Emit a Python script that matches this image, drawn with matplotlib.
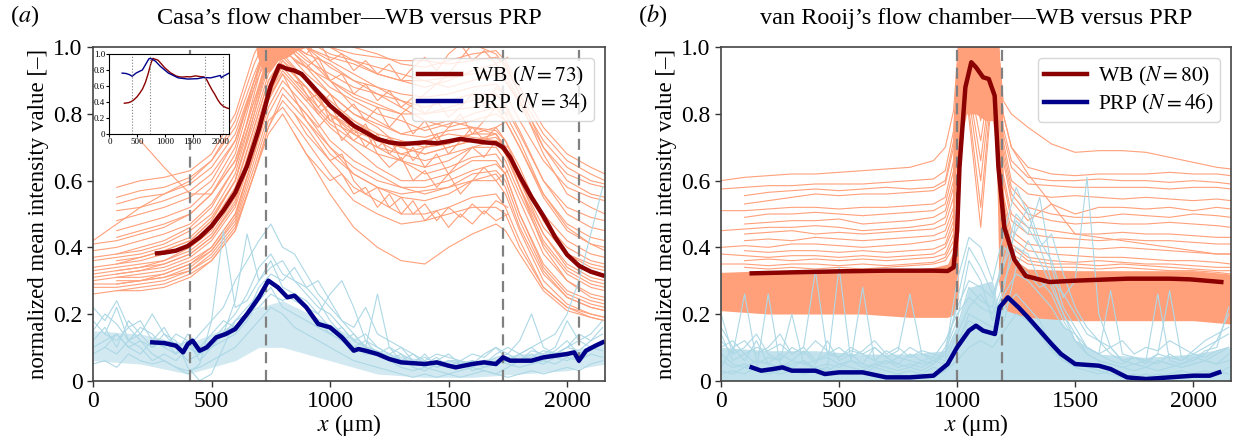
import numpy as np
import matplotlib.pyplot as plt

plt.rcParams['font.family'] = ['Liberation Serif', 'DejaVu Serif']
plt.rcParams['mathtext.fontset'] = 'stix'
nan = np.nan

# ---------------- panel (a): Casa's flow chamber ----------------
dash_a = [410, 730, 1730, 2050]

x_wb_a = [0, 100, 200, 300, 410, 500, 600, 680, 740, 800, 900, 1000, 1100, 1200,
          1300, 1400, 1500, 1600, 1700, 1740, 1800, 1900, 2000, 2100, 2160]
wb_a = [
    [0.42, 0.47, 0.52, 0.56, 0.60, 0.66, 0.78, 0.95, 1.04, 1.05, 1.02, 1.00, 0.98, 0.97, 0.96, 0.96, 0.95, 0.96, 0.97, 0.95, 0.86, 0.74, 0.66, 0.62, 0.60],
    [nan, 0.55, 0.57, 0.58, 0.61, 0.66, 0.76, 0.92, 1.02, 1.04, 1.00, 0.97, 0.95, 0.92, 0.90, 0.90, 0.91, 0.92, 0.93, 0.90, 0.83, 0.70, 0.62, 0.59, 0.58],
    [nan, 0.53, 0.55, 0.56, 0.59, 0.64, 0.74, 0.90, 1.00, 1.03, 0.98, 0.95, 0.90, 0.88, 0.86, 0.85, 0.86, 0.88, 0.89, 0.86, 0.78, 0.66, 0.58, 0.55, 0.54],
    [nan, 0.51, 0.52, 0.54, 0.57, 0.62, 0.72, 0.88, 0.98, 1.02, 0.96, 0.92, 0.88, 0.86, 0.84, 0.80, 0.82, 0.84, 0.86, 0.83, 0.75, 0.60, 0.50, 0.46, 0.45],
    [0.41, 0.42, 0.44, 0.46, 0.50, 0.56, 0.66, 0.84, 0.96, 1.01, 0.95, 0.88, 0.84, 0.80, 0.78, 0.75, 0.77, 0.80, 0.82, 0.78, 0.70, 0.55, 0.45, 0.41, 0.40],
    [nan, 0.38, 0.40, 0.42, 0.46, 0.52, 0.64, 0.82, 0.96, 1.00, 0.92, 0.86, 0.80, 0.77, 0.74, 0.76, 0.78, 0.76, 0.74, 0.70, 0.60, 0.46, 0.38, 0.35, 0.34],
    [0.36, 0.37, 0.38, 0.40, 0.43, 0.49, 0.60, 0.78, 0.92, 0.98, 0.90, 0.84, 0.78, 0.73, 0.70, 0.72, 0.74, 0.73, 0.72, 0.68, 0.58, 0.44, 0.35, 0.31, 0.30],
    [nan, 0.35, 0.36, 0.38, 0.41, 0.47, 0.58, 0.76, 0.90, 0.96, 0.90, 0.80, 0.76, 0.72, 0.68, 0.66, 0.68, 0.70, 0.70, 0.66, 0.56, 0.41, 0.32, 0.28, 0.27],
    [0.33, 0.34, 0.35, 0.36, 0.39, 0.44, 0.55, 0.74, 0.88, 0.94, 0.86, 0.78, 0.74, 0.70, 0.66, 0.62, 0.64, 0.67, 0.68, 0.64, 0.54, 0.38, 0.30, 0.26, 0.25],
    [nan, 0.32, 0.33, 0.34, 0.37, 0.42, 0.52, 0.70, 0.85, 0.92, 0.84, 0.76, 0.70, 0.64, 0.60, 0.60, 0.62, 0.66, 0.66, 0.62, 0.50, 0.35, 0.27, 0.24, 0.23],
    [0.30, 0.31, 0.32, 0.33, 0.36, 0.40, 0.50, 0.68, 0.82, 0.90, 0.82, 0.72, 0.66, 0.62, 0.58, 0.56, 0.58, 0.62, 0.63, 0.60, 0.48, 0.33, 0.25, 0.22, 0.21],
    [nan, 0.29, 0.30, 0.31, 0.34, 0.39, 0.48, 0.66, 0.80, 0.88, 0.80, 0.70, 0.62, 0.58, 0.55, 0.54, 0.56, 0.60, 0.60, 0.56, 0.45, 0.30, 0.23, 0.20, 0.19],
    [0.28, 0.28, 0.29, 0.30, 0.33, 0.37, 0.46, 0.62, 0.76, 0.84, 0.76, 0.66, 0.58, 0.54, 0.50, 0.50, 0.52, 0.55, 0.56, 0.52, 0.42, 0.28, 0.22, 0.19, 0.18],
    [nan, 0.30, 0.30, 0.31, 0.33, 0.38, 0.47, 0.64, 0.78, 0.82, 0.72, 0.62, 0.54, 0.50, 0.47, 0.48, 0.50, 0.52, 0.52, 0.50, 0.40, 0.28, 0.22, 0.20, 0.19],
    [nan, 0.27, 0.27, 0.28, 0.31, 0.36, 0.45, 0.62, 0.74, 0.80, 0.68, 0.56, 0.46, 0.40, 0.36, 0.35, 0.40, 0.44, 0.47, 0.45, 0.38, 0.27, 0.21, 0.19, 0.18],
    [0.39, 0.40, 0.42, 0.44, 0.47, 0.53, 0.64, 0.86, 1.02, 1.05, 1.00, 0.94, 0.90, 0.86, 0.82, 0.78, 0.76, 0.78, 0.80, 0.78, 0.70, 0.56, 0.47, 0.43, 0.42],
    [nan, 0.45, 0.47, 0.49, 0.52, 0.58, 0.70, 0.90, 1.04, 1.05, 1.00, 0.96, 0.92, 0.88, 0.84, 0.82, 0.84, 0.86, 0.86, 0.82, 0.74, 0.60, 0.52, 0.49, 0.48],
    [nan, 0.48, 0.50, 0.52, 0.55, 0.60, 0.72, 0.90, 1.03, 1.05, 1.02, 0.98, 0.96, 0.94, 0.92, 0.90, 0.88, 0.90, 0.92, 0.90, 0.84, 0.72, 0.64, 0.60, 0.59],
    [0.31, 0.32, 0.33, 0.35, 0.38, 0.43, 0.54, 0.72, 0.86, 0.93, 0.85, 0.77, 0.72, 0.68, 0.66, 0.64, 0.66, 0.70, 0.72, 0.68, 0.58, 0.42, 0.33, 0.29, 0.28],
    [nan, 0.33, 0.34, 0.36, 0.40, 0.45, 0.57, 0.76, 0.90, 0.97, 0.90, 0.82, 0.78, 0.74, 0.72, 0.70, 0.71, 0.74, 0.76, 0.72, 0.64, 0.48, 0.38, 0.34, 0.33],
    [nan, nan, 0.72, 0.64, 0.56, 0.56, 0.66, 0.84, 0.98, 1.02, 0.94, 0.90, 0.86, 0.83, 0.80, 0.86, 0.92, 1.01, 0.98, 0.94, 0.86, 0.70, 0.60, 0.56, 0.55],
    [0.34, 0.35, 0.37, 0.39, 0.42, 0.48, 0.60, 0.80, 0.94, 0.99, 0.94, 0.86, 0.80, 0.76, 0.70, 0.68, 0.70, 0.72, 0.74, 0.70, 0.62, 0.50, 0.42, 0.38, 0.37],
    [nan, 0.58, 0.60, 0.61, 0.63, 0.68, 0.80, 0.98, 1.06, 1.08, 1.05, 1.03, 1.00, 0.98, 0.95, 0.94, 0.96, 0.98, 0.99, 0.96, 0.88, 0.76, 0.68, 0.64, 0.62],
    [0.37, 0.38, 0.39, 0.41, 0.45, 0.50, 0.62, 0.82, 0.99, 1.06, 1.00, 0.90, 0.82, 0.78, 0.74, 0.73, 0.75, 0.76, 0.75, 0.72, 0.62, 0.48, 0.40, 0.36, 0.35],
    [nan, 0.31, 0.31, 0.32, 0.35, 0.40, 0.50, 0.68, 0.84, 0.92, 0.78, 0.68, 0.62, 0.58, 0.56, 0.57, 0.58, 0.60, 0.62, 0.58, 0.46, 0.32, 0.25, 0.22, 0.21],
    [0.29, 0.29, 0.30, 0.32, 0.35, 0.39, 0.49, 0.68, 0.85, 0.95, 0.88, 0.80, 0.75, 0.72, 0.70, 0.68, 0.70, 0.72, 0.73, 0.70, 0.58, 0.40, 0.30, 0.25, 0.24],
    [nan, 0.43, 0.45, 0.47, 0.50, 0.56, 0.68, 0.88, 1.04, 1.08, 1.04, 1.00, 0.96, 0.92, 0.90, 0.88, 0.90, 0.93, 0.95, 0.92, 0.84, 0.68, 0.56, 0.52, 0.50],
    [0.32, 0.33, 0.34, 0.35, 0.38, 0.43, 0.53, 0.72, 0.88, 0.96, 0.88, 0.80, 0.74, 0.70, 0.68, 0.70, 0.72, 0.74, 0.74, 0.70, 0.60, 0.44, 0.34, 0.30, 0.29],
    [nan, 0.36, 0.37, 0.39, 0.42, 0.48, 0.60, 0.80, 0.96, 1.03, 0.97, 0.90, 0.85, 0.82, 0.80, 0.80, 0.81, 0.82, 0.83, 0.80, 0.72, 0.56, 0.46, 0.41, 0.39],
    [0.26, 0.27, 0.28, 0.29, 0.32, 0.36, 0.45, 0.62, 0.76, 0.86, 0.78, 0.70, 0.64, 0.60, 0.58, 0.58, 0.60, 0.63, 0.65, 0.62, 0.50, 0.34, 0.26, 0.23, 0.22],
]

# noisy stretches of single WB traces across the plateau
x_wb_a_mid = [850, 900, 950, 1000, 1050, 1100, 1150, 1200, 1250, 1300, 1350, 1400,
              1450, 1500, 1550, 1600, 1650, 1700, 1750]
wb_a_mid = [
    [0.96, 0.94, 0.97, 0.90, 0.92, 0.86, 0.89, 0.84, 0.87, 0.82, 0.85, 0.80, 0.84, 0.79, 0.82, 0.86, 0.83, 0.88, 0.85],
    [0.88, 0.84, 0.86, 0.78, 0.80, 0.74, 0.77, 0.70, 0.73, 0.66, 0.70, 0.64, 0.68, 0.62, 0.66, 0.70, 0.67, 0.72, 0.70],
    [0.92, 0.86, 0.80, 0.83, 0.76, 0.72, 0.75, 0.68, 0.64, 0.67, 0.60, 0.63, 0.58, 0.62, 0.56, 0.60, 0.64, 0.60, 0.63],
    [0.80, 0.74, 0.70, 0.66, 0.68, 0.60, 0.56, 0.58, 0.52, 0.55, 0.50, 0.53, 0.48, 0.52, 0.49, 0.53, 0.50, 0.54, 0.52],
    [1.00, 0.98, 1.02, 0.96, 0.98, 0.93, 0.96, 0.92, 0.95, 0.90, 0.94, 0.97, 0.93, 0.98, 1.01, 0.96, 0.99, 0.95, 0.97],
    [0.84, 0.80, 0.76, 0.80, 0.72, 0.76, 0.70, 0.74, 0.68, 0.72, 0.66, 0.70, 0.74, 0.68, 0.72, 0.76, 0.72, 0.76, 0.78],
    [0.74, 0.68, 0.64, 0.60, 0.62, 0.56, 0.58, 0.52, 0.56, 0.50, 0.54, 0.48, 0.51, 0.46, 0.50, 0.47, 0.51, 0.48, 0.50],
    [0.90, 0.88, 0.82, 0.86, 0.80, 0.83, 0.78, 0.82, 0.76, 0.80, 0.74, 0.78, 0.72, 0.76, 0.80, 0.74, 0.78, 0.82, 0.80],
]

# saturated top of the WB peak
x_peak_a = [690, 720, 750, 780, 820, 860, 900, 950]
peak_a_lo = [0.98, 0.92, 0.93, 0.96, 0.97, 0.99, 1.00, 1.00]
peak_a_hi = [1.05, 1.05, 1.05, 1.05, 1.05, 1.05, 1.05, 1.05]

x_prp_a = [0, 50, 100, 150, 200, 250, 300, 350, 400, 450, 500, 550, 600, 650, 700, 750,
           800, 850, 900, 950, 1000, 1050, 1100, 1150, 1200, 1250, 1300, 1350, 1400,
           1450, 1500, 1550, 1600, 1650, 1700, 1750, 1800, 1850, 1900, 1950, 2000,
           2050, 2100, 2150]
prp_a = [
    [0.15, 0.20, 0.17, 0.12, 0.14, 0.10, 0.12, 0.08, 0.10, 0.14, 0.18, 0.22, 0.30, 0.36, 0.42, 0.47, 0.40, 0.38, 0.32, 0.26, 0.22, 0.18, 0.14, 0.10, 0.09, 0.07, 0.06, 0.05, 0.06, 0.04, 0.05, 0.04, 0.06, 0.05, 0.07, 0.08, 0.06, 0.07, 0.09, 0.08, 0.10, 0.09, 0.12, 0.14],
    [0.22, 0.18, 0.24, 0.16, 0.18, 0.12, 0.16, 0.10, 0.06, 0.08, 0.12, 0.16, 0.20, 0.26, 0.34, 0.38, 0.32, 0.30, 0.26, 0.22, 0.20, 0.16, 0.12, 0.14, 0.10, 0.08, 0.06, 0.08, 0.05, 0.07, 0.04, 0.06, 0.05, 0.08, 0.10, 0.06, 0.08, 0.10, 0.07, 0.09, 0.12, 0.08, 0.10, 0.12],
    [nan, 0.10, 0.14, 0.10, 0.12, 0.08, 0.06, 0.04, 0.02, 0.05, 0.18, 0.45, 0.22, 0.24, 0.30, 0.36, 0.28, 0.26, 0.24, 0.20, 0.26, 0.30, 0.22, 0.12, 0.10, 0.08, 0.10, 0.06, 0.04, 0.06, 0.08, 0.05, 0.06, 0.04, 0.05, 0.06, 0.08, 0.06, 0.05, 0.07, 0.06, 0.08, 0.10, 0.11],
    [0.12, 0.16, 0.10, 0.18, 0.14, 0.20, 0.14, 0.12, 0.04, 0.00, 0.02, 0.10, 0.18, 0.20, 0.28, 0.32, 0.30, 0.34, 0.28, 0.24, 0.18, 0.14, 0.10, 0.12, 0.08, 0.06, 0.04, 0.03, 0.04, 0.03, 0.02, 0.03, 0.04, 0.03, 0.02, 0.04, 0.06, 0.08, 0.06, 0.08, 0.10, 0.14, 0.12, 0.16],
    [0.08, 0.10, 0.08, 0.12, 0.10, 0.06, 0.08, 0.06, 0.10, 0.08, 0.12, 0.14, 0.24, 0.44, 0.30, 0.34, 0.36, 0.30, 0.28, 0.30, 0.24, 0.18, 0.16, 0.22, 0.14, 0.12, 0.10, 0.08, 0.06, 0.08, 0.07, 0.06, 0.08, 0.07, 0.10, 0.08, 0.12, 0.20, 0.10, 0.08, 0.10, 0.12, 0.14, 0.18],
    [0.05, 0.06, 0.04, 0.08, 0.06, 0.05, 0.06, 0.04, 0.03, 0.04, 0.06, 0.08, 0.10, 0.14, 0.18, 0.22, 0.20, 0.16, 0.14, 0.12, 0.10, 0.08, 0.06, 0.05, 0.04, 0.03, 0.02, 0.01, 0.02, 0.01, 0.02, 0.01, 0.02, 0.03, 0.02, 0.01, 0.02, 0.03, 0.02, 0.03, 0.04, 0.03, 0.05, 0.06],
    [nan, 0.14, 0.12, 0.16, 0.12, 0.10, 0.14, 0.10, 0.12, 0.08, 0.10, 0.12, 0.14, 0.18, 0.24, 0.28, 0.22, 0.20, 0.18, 0.16, 0.14, 0.12, 0.10, 0.08, 0.08, 0.10, 0.08, 0.06, 0.07, 0.05, 0.06, 0.05, 0.06, 0.05, 0.08, 0.10, 0.08, 0.10, 0.12, 0.14, 0.20, 0.30, 0.44, 0.58],
    [0.18, 0.14, 0.22, 0.12, 0.16, 0.14, 0.10, 0.14, 0.12, 0.06, 0.10, 0.14, 0.18, 0.22, 0.26, 0.30, 0.26, 0.24, 0.22, 0.20, 0.16, 0.12, 0.14, 0.10, 0.26, 0.10, 0.06, 0.05, 0.08, 0.04, 0.06, 0.06, 0.04, 0.06, 0.05, 0.07, 0.06, 0.09, 0.08, 0.10, 0.18, 0.12, 0.10, 0.09],
    [0.10, 0.12, 0.14, 0.10, 0.08, 0.12, 0.10, 0.08, 0.14, 0.10, 0.14, 0.18, 0.16, 0.20, 0.22, 0.26, 0.24, 0.26, 0.22, 0.18, 0.14, 0.16, 0.12, 0.10, 0.08, 0.06, 0.08, 0.04, 0.03, 0.05, 0.04, 0.06, 0.03, 0.04, 0.06, 0.05, 0.04, 0.05, 0.06, 0.05, 0.07, 0.06, 0.08, 0.07],
]

# dense core of the PRP traces in panel (a)
x_prp_band_a = [0, 200, 400, 600, 700, 800, 1000, 1200, 1400, 1600, 1800, 2000, 2160]
prp_band_a_lo = [0.06, 0.05, 0.02, 0.06, 0.10, 0.10, 0.06, 0.02, 0.01, 0.01, 0.02, 0.03, 0.05]
prp_band_a_hi = [0.15, 0.14, 0.11, 0.17, 0.22, 0.24, 0.17, 0.09, 0.06, 0.06, 0.08, 0.09, 0.11]

x_mean_wb_a = [270, 300, 350, 400, 450, 500, 550, 600, 650, 700, 750, 785, 820, 850, 880,
               950, 1000, 1050, 1100, 1150, 1200, 1250, 1300, 1350, 1400, 1450, 1500,
               1550, 1600, 1650, 1700, 1730, 1760, 1800, 1850, 1900, 1950, 2000, 2050,
               2100, 2150]
mean_wb_a = [0.382, 0.384, 0.39, 0.404, 0.43, 0.464, 0.51, 0.564, 0.644, 0.755, 0.885,
             0.945, 0.935, 0.93, 0.92, 0.865, 0.825, 0.795, 0.765, 0.745, 0.725, 0.715,
             0.71, 0.712, 0.715, 0.712, 0.718, 0.725, 0.72, 0.715, 0.712, 0.70, 0.67,
             0.614, 0.55, 0.494, 0.43, 0.378, 0.345, 0.327, 0.316]

x_mean_prp_a = [250, 300, 350, 380, 400, 420, 450, 480, 520, 560, 600, 650, 700, 740,
                780, 820, 850, 900, 950, 1000, 1050, 1100, 1120, 1150, 1200, 1250, 1300,
                1400, 1450, 1500, 1530, 1600, 1650, 1700, 1730, 1760, 1800, 1850, 1900,
                1950, 2000, 2030, 2050, 2080, 2120, 2150]
mean_prp_a = [0.115, 0.113, 0.105, 0.085, 0.11, 0.12, 0.09, 0.10, 0.13, 0.14, 0.155, 0.20,
              0.25, 0.30, 0.28, 0.25, 0.255, 0.22, 0.17, 0.16, 0.13, 0.09, 0.095, 0.09,
              0.08, 0.065, 0.055, 0.05, 0.055, 0.045, 0.04, 0.05, 0.055, 0.05, 0.07, 0.06,
              0.06, 0.06, 0.07, 0.075, 0.08, 0.085, 0.06, 0.09, 0.105, 0.115]

# inset: PRP mean rescaled onto the WB plateau
x_inset_prp = [230, 300, 363, 410, 480, 596, 713, 743, 830, 918, 1064, 1240, 1415,
               1590, 1696, 1825, 2000, 2018, 2050, 2105, 2160]
inset_prp = [0.76, 0.755, 0.74, 0.72, 0.76, 0.80, 0.94, 0.945, 0.91, 0.845, 0.76, 0.70,
             0.685, 0.69, 0.705, 0.70, 0.73, 0.70, 0.72, 0.74, 0.76]

# ---------------- panel (b): van Rooij's flow chamber ----------------
dash_b = [1000, 1190]

x_wb_b = [0, 100, 200, 300, 400, 500, 600, 700, 800, 900, 950, 985, 1010, 1100, 1170,
          1195, 1230, 1300, 1400, 1500, 1600, 1700, 1800, 1900, 2000, 2100, 2160]
wb_b = [
    [0.60, 0.61, 0.615, 0.62, 0.62, 0.625, 0.63, 0.635, 0.64, 0.66, 0.70, 0.81, 1.05, 1.05, 1.05, 0.84, 0.80, 0.76, 0.71, 0.685, 0.69, 0.69, 0.685, 0.67, 0.655, 0.64, 0.635],
    [0.575, 0.58, 0.585, 0.585, 0.59, 0.59, 0.59, 0.595, 0.60, 0.605, 0.63, 0.75, 1.05, 1.05, 1.05, 0.80, 0.70, 0.64, 0.62, 0.615, 0.62, 0.62, 0.62, 0.625, 0.62, 0.62, 0.615],
    [nan, 0.555, 0.565, 0.57, 0.575, 0.57, 0.575, 0.58, 0.575, 0.58, 0.60, 0.72, 1.05, 1.05, 1.05, 0.76, 0.66, 0.61, 0.60, 0.60, 0.605, 0.60, 0.60, 0.595, 0.60, 0.595, 0.59],
    [nan, 0.53, 0.54, 0.55, 0.56, 0.555, 0.56, 0.56, 0.565, 0.57, 0.59, 0.70, 1.05, 1.05, 1.05, 0.74, 0.64, 0.59, 0.585, 0.58, 0.58, 0.58, 0.58, 0.575, 0.58, 0.58, 0.575],
    [0.51, 0.51, 0.515, 0.52, 0.52, 0.515, 0.52, 0.52, 0.525, 0.53, 0.55, 0.66, 1.05, 1.05, 1.05, 0.72, 0.60, 0.56, 0.55, 0.555, 0.55, 0.545, 0.55, 0.545, 0.54, 0.545, 0.54],
    [nan, 0.49, 0.50, 0.50, 0.505, 0.50, 0.495, 0.50, 0.505, 0.51, 0.53, 0.63, 1.05, 1.05, 1.05, 0.80, 0.70, 0.62, 0.53, 0.50, 0.52, 0.52, 0.515, 0.52, 0.51, 0.52, 0.515],
    [nan, 0.47, 0.475, 0.48, 0.48, 0.485, 0.47, 0.475, 0.48, 0.49, 0.51, 0.60, 1.05, 1.05, 1.05, 0.70, 0.58, 0.52, 0.50, 0.49, 0.49, 0.50, 0.495, 0.49, 0.50, 0.495, 0.49],
    [0.45, 0.455, 0.46, 0.46, 0.465, 0.46, 0.45, 0.455, 0.46, 0.47, 0.49, 0.58, 1.05, 1.05, 1.05, 0.68, 0.56, 0.50, 0.48, 0.47, 0.475, 0.47, 0.47, 0.475, 0.47, 0.465, 0.46],
    [nan, 0.44, 0.445, 0.45, 0.44, 0.445, 0.44, 0.445, 0.45, 0.455, 0.47, 0.55, 1.05, 0.90, 1.05, 0.66, 0.54, 0.48, 0.53, 0.44, 0.44, 0.445, 0.44, 0.44, 0.435, 0.43, 0.43],
    [nan, 0.42, 0.425, 0.42, 0.43, 0.425, 0.42, 0.425, 0.43, 0.435, 0.45, 0.52, 1.05, 0.84, 1.05, 0.62, 0.50, 0.46, 0.45, 0.44, 0.43, 0.42, 0.41, 0.40, 0.39, 0.38, 0.38],
    [0.40, 0.405, 0.40, 0.41, 0.41, 0.405, 0.40, 0.405, 0.41, 0.42, 0.43, 0.50, 1.05, 0.78, 1.05, 0.60, 0.48, 0.44, 0.43, 0.425, 0.42, 0.425, 0.42, 0.42, 0.415, 0.41, 0.41],
    [nan, 0.39, 0.385, 0.39, 0.39, 0.385, 0.39, 0.385, 0.39, 0.395, 0.41, 0.48, 1.05, 0.72, 1.05, 0.56, 0.45, 0.41, 0.40, 0.40, 0.395, 0.40, 0.395, 0.39, 0.385, 0.38, 0.38],
    [0.38, 0.375, 0.37, 0.375, 0.375, 0.37, 0.375, 0.37, 0.375, 0.38, 0.40, 0.46, 1.05, 0.66, 1.05, 0.54, 0.43, 0.39, 0.38, 0.375, 0.37, 0.37, 0.365, 0.36, 0.36, 0.355, 0.35],
    [nan, 0.36, 0.365, 0.36, 0.365, 0.36, 0.365, 0.36, 0.365, 0.37, 0.38, 0.44, 1.05, 0.60, 1.05, 0.52, 0.41, 0.37, 0.36, 0.355, 0.36, 0.355, 0.35, 0.35, 0.345, 0.34, 0.34],
    [0.35, 0.35, 0.345, 0.35, 0.35, 0.345, 0.35, 0.345, 0.35, 0.355, 0.37, 0.42, 1.05, 0.52, 1.05, 0.50, 0.40, 0.36, 0.35, 0.35, 0.345, 0.35, 0.345, 0.34, 0.335, 0.33, 0.33],
    [nan, 0.34, 0.335, 0.34, 0.335, 0.34, 0.335, 0.34, 0.345, 0.35, 0.36, 0.40, 1.05, 0.46, 1.05, 0.48, 0.38, 0.35, 0.34, 0.34, 0.335, 0.34, 0.335, 0.33, 0.33, 0.325, 0.32],
]

# dense WB band of panel (b): envelope of the remaining traces
x_band_b_left = [0, 200, 400, 600, 800, 900, 960, 990, 1005]
band_b_left_lo = [0.21, 0.20, 0.20, 0.20, 0.19, 0.19, 0.19, 0.20, 0.25]
band_b_left_hi = [0.325, 0.33, 0.33, 0.335, 0.335, 0.34, 0.35, 0.40, 0.60]
x_band_b_right = [1175, 1190, 1210, 1250, 1300, 1500, 1800, 2000, 2160]
band_b_right_lo = [0.30, 0.24, 0.21, 0.20, 0.19, 0.18, 0.18, 0.18, 0.17]
band_b_right_hi = [0.80, 0.62, 0.45, 0.36, 0.335, 0.33, 0.33, 0.33, 0.32]
x_peak_b = [995, 1003, 1015, 1040, 1080, 1120, 1150, 1165, 1175, 1185]
peak_b_lo = [0.30, 0.35, 0.72, 0.80, 0.80, 0.78, 0.78, 0.70, 0.40, 0.30]
peak_b_hi = [0.80, 1.05, 1.05, 1.05, 1.05, 1.05, 1.05, 1.05, 1.05, 0.85]

x_prp_b = x_prp_a
prp_b = [
    [0.20, 0.08, 0.26, 0.06, 0.05, 0.04, 0.06, 0.05, 0.04, 0.03, 0.05, 0.04, 0.03, 0.05, 0.04, 0.03, 0.04, 0.03, 0.05, 0.08, 0.30, 0.43, 0.40, 0.30, 0.45, 0.58, 0.50, 0.40, 0.30, 0.20, 0.12, 0.08, 0.06, 0.05, 0.04, 0.03, 0.04, 0.03, 0.04, 0.05, 0.06, 0.08, 0.12, 0.20],
    [0.06, 0.04, 0.05, 0.03, 0.26, 0.05, 0.04, 0.06, 0.03, 0.04, 0.34, 0.06, 0.05, 0.04, 0.06, 0.05, 0.04, 0.06, 0.05, 0.10, 0.22, 0.30, 0.28, 0.25, 0.35, 0.45, 0.52, 0.42, 0.36, 0.25, 0.30, 0.61, 0.20, 0.10, 0.06, 0.05, 0.04, 0.06, 0.05, 0.04, 0.05, 0.06, 0.08, 0.10],
    [0.10, 0.12, 0.08, 0.10, 0.09, 0.11, 0.08, 0.10, 0.33, 0.08, 0.07, 0.09, 0.08, 0.10, 0.07, 0.09, 0.26, 0.08, 0.07, 0.12, 0.20, 0.25, 0.22, 0.20, 0.30, 0.40, 0.38, 0.30, 0.26, 0.18, 0.12, 0.10, 0.08, 0.27, 0.08, 0.07, 0.06, 0.08, 0.07, 0.06, 0.08, 0.07, 0.09, 0.10],
    [0.02, 0.03, 0.02, 0.04, 0.03, 0.02, 0.03, 0.02, 0.03, 0.02, 0.03, 0.02, 0.03, 0.02, 0.01, 0.02, 0.01, 0.02, 0.01, 0.03, 0.12, 0.18, 0.16, 0.14, 0.22, 0.26, 0.22, 0.18, 0.10, 0.06, 0.05, 0.04, 0.03, 0.02, 0.01, 0.02, 0.01, 0.02, 0.01, 0.02, 0.01, 0.02, 0.03, 0.02],
    [0.14, 0.06, 0.08, 0.05, 0.07, 0.06, 0.20, 0.05, 0.06, 0.07, 0.05, 0.06, 0.28, 0.06, 0.05, 0.07, 0.06, 0.05, 0.06, 0.09, 0.18, 0.36, 0.30, 0.18, 0.28, 0.48, 0.44, 0.55, 0.34, 0.22, 0.16, 0.10, 0.08, 0.06, 0.05, 0.07, 0.06, 0.26, 0.06, 0.05, 0.07, 0.06, 0.05, 0.08],
    [0.04, 0.10, 0.06, 0.12, 0.05, 0.08, 0.06, 0.09, 0.05, 0.12, 0.06, 0.08, 0.05, 0.10, 0.07, 0.05, 0.08, 0.06, 0.07, 0.06, 0.14, 0.22, 0.26, 0.20, 0.26, 0.32, 0.30, 0.26, 0.22, 0.16, 0.14, 0.10, 0.08, 0.10, 0.12, 0.08, 0.10, 0.09, 0.12, 0.10, 0.08, 0.10, 0.12, 0.14],
    [0.08, 0.05, 0.04, 0.06, 0.05, 0.04, 0.05, 0.06, 0.04, 0.05, 0.04, 0.06, 0.04, 0.05, 0.06, 0.04, 0.05, 0.04, 0.06, 0.05, 0.10, 0.20, 0.18, 0.16, 0.18, 0.34, 0.42, 0.36, 0.28, 0.20, 0.14, 0.08, 0.06, 0.05, 0.04, 0.05, 0.04, 0.06, 0.05, 0.04, 0.05, 0.06, 0.05, 0.06],
    [0.12, 0.08, 0.10, 0.14, 0.08, 0.06, 0.10, 0.08, 0.12, 0.09, 0.07, 0.10, 0.08, 0.06, 0.09, 0.07, 0.10, 0.08, 0.06, 0.08, 0.16, 0.28, 0.24, 0.22, 0.40, 0.36, 0.32, 0.28, 0.30, 0.26, 0.20, 0.14, 0.12, 0.10, 0.06, 0.05, 0.06, 0.05, 0.08, 0.06, 0.09, 0.12, 0.14, 0.16],
    [0.03, 0.02, 0.04, 0.03, 0.02, 0.03, 0.04, 0.02, 0.03, 0.04, 0.02, 0.03, 0.02, 0.04, 0.03, 0.02, 0.03, 0.02, 0.04, 0.03, 0.06, 0.10, 0.12, 0.10, 0.15, 0.20, 0.18, 0.14, 0.09, 0.06, 0.04, 0.03, 0.02, 0.03, 0.02, 0.01, 0.02, 0.01, 0.02, 0.03, 0.02, 0.03, 0.02, 0.04],
    [0.16, 0.10, 0.12, 0.08, 0.10, 0.14, 0.08, 0.10, 0.06, 0.08, 0.10, 0.07, 0.09, 0.12, 0.08, 0.10, 0.07, 0.09, 0.08, 0.07, 0.24, 0.40, 0.34, 0.26, 0.36, 0.50, 0.46, 0.40, 0.44, 0.32, 0.22, 0.16, 0.12, 0.08, 0.06, 0.07, 0.05, 0.08, 0.27, 0.07, 0.06, 0.09, 0.10, 0.22],
]

# dense core of the PRP traces in panel (b)
x_prp_band_b = [0, 200, 400, 600, 800, 950, 1000, 1050, 1150, 1180, 1200, 1300, 1400,
                1500, 1600, 1800, 2000, 2160]
prp_band_b_hi = [0.10, 0.09, 0.09, 0.08, 0.08, 0.09, 0.16, 0.28, 0.30, 0.20, 0.30, 0.32,
                 0.22, 0.12, 0.08, 0.07, 0.08, 0.10]

x_mean_wb_b = [130, 300, 500, 700, 900, 960, 985, 1000, 1010, 1035, 1060, 1080, 1110,
               1134, 1159, 1175, 1200, 1242, 1291, 1391, 1500, 1722, 1900, 1987, 2119]
mean_wb_b = [0.322, 0.325, 0.328, 0.33, 0.33, 0.329, 0.34, 0.45, 0.64, 0.88, 0.955,
             0.94, 0.91, 0.905, 0.855, 0.64, 0.46, 0.364, 0.314, 0.296, 0.30, 0.306,
             0.306, 0.304, 0.296]

x_mean_prp_b = [130, 170, 220, 260, 300, 400, 440, 500, 600, 700, 800, 900, 960, 1000,
                1050, 1080, 1110, 1160, 1180, 1215, 1260, 1300, 1400, 1440, 1500, 1600,
                1650, 1720, 1800, 1900, 2000, 2070, 2110]
mean_prp_b = [0.04, 0.03, 0.035, 0.04, 0.03, 0.03, 0.02, 0.025, 0.025, 0.01, 0.01,
              0.015, 0.05, 0.10, 0.15, 0.165, 0.15, 0.14, 0.22, 0.25, 0.22, 0.19, 0.11,
              0.08, 0.05, 0.045, 0.035, 0.01, 0.005, 0.01, 0.015, 0.015, 0.025]

legend_a = ['WB ($N = 73$)', 'PRP ($N = 34$)']
legend_b = ['WB ($N = 80$)', 'PRP ($N = 46$)']

c_wb, c_prp = '#FFA07A', '#ADD8E6'
c_wb_mean, c_prp_mean = '#8B0000', '#00008B'


def style_axes(ax, title):
    ax.set_xlim(0, 2160)
    ax.set_ylim(0, 1.0)
    ax.set_xticks([0, 500, 1000, 1500, 2000])
    ax.set_yticks([0, 0.2, 0.4, 0.6, 0.8, 1.0])
    ax.set_yticklabels(['0', '0.2', '0.4', '0.6', '0.8', '1.0'])
    ax.tick_params(labelsize=17, length=4, width=1, color='#333333')
    for s in ['top', 'right', 'left', 'bottom']:
        ax.spines[s].set_color('#444444')
        ax.spines[s].set_linewidth(1.2)
    ax.set_xlabel('$x$ (μm)', fontsize=17, labelpad=0)
    ax.set_ylabel('normalized mean intensity value [–]', fontsize=16.5, labelpad=3)
    ax.set_title(title, fontsize=17.5, pad=17)


def add_legend(ax):
    ax.legend(loc='upper right', fontsize=15.5, handlelength=2.0, labelspacing=0.2,
              borderpad=0.3, handletextpad=0.5, borderaxespad=0.5)


fig = plt.figure(figsize=(12.33, 4.43), dpi=100)
ax1 = fig.add_axes([93 / 1233, 62.3 / 443, 512 / 1233, 333.4 / 443])
ax2 = fig.add_axes([721 / 1233, 62.3 / 443, 510 / 1233, 333.4 / 443])

# panel (a)
ax1.fill_between(x_peak_a, peak_a_lo, peak_a_hi, color=c_wb, lw=0)
for tr in wb_a:
    ax1.plot(x_wb_a, tr, color=c_wb, lw=0.8)
for tr in wb_a_mid:
    ax1.plot(x_wb_a_mid, tr, color=c_wb, lw=0.8)
ax1.fill_between(x_prp_band_a, prp_band_a_lo, prp_band_a_hi, color=c_prp, lw=0, alpha=0.55)
for tr in prp_a:
    ax1.plot(x_prp_a, tr, color=c_prp, lw=0.8)
for xd in dash_a:
    ax1.axvline(xd, color='#808080', ls=(0, (5, 3)), lw=1.6)
ax1.plot(x_mean_wb_a, mean_wb_a, color=c_wb_mean, lw=3.2, label=legend_a[0])
ax1.plot(x_mean_prp_a, mean_prp_a, color=c_prp_mean, lw=3.2, label=legend_a[1])
style_axes(ax1, 'Casa’s flow chamber—WB versus PRP')
add_legend(ax1)

ins = ax1.inset_axes([0.032, 0.741, 0.234, 0.239])
ins.plot(x_mean_wb_a, mean_wb_a, color=c_wb_mean, lw=1.0)
ins.plot(x_inset_prp, inset_prp, color=c_prp_mean, lw=1.0)
for xd in dash_a:
    ins.axvline(xd, color='#808080', ls=':', lw=0.8)
ins.set_xlim(0, 2160)
ins.set_ylim(0, 1.0)
ins.set_xticks([0, 500, 1000, 1500, 2000])
ins.set_yticks([0, 0.2, 0.4, 0.6, 0.8, 1.0])
ins.set_yticklabels(['0', '0.2', '0.4', '0.6', '0.8', '1.0'])
ins.tick_params(labelsize=6.5, length=2, pad=1)

# panel (b): blue core first so the salmon band stays clean, blue traces on top
ax2.fill_between(x_prp_band_b, 0, prp_band_b_hi, color=c_prp, lw=0, alpha=0.75)
ax2.fill_between(x_band_b_left, band_b_left_lo, band_b_left_hi, color=c_wb, lw=0)
ax2.fill_between(x_band_b_right, band_b_right_lo, band_b_right_hi, color=c_wb, lw=0)
ax2.fill_between(x_peak_b, peak_b_lo, peak_b_hi, color=c_wb, lw=0)
for tr in wb_b:
    ax2.plot(x_wb_b, tr, color=c_wb, lw=0.8)
for tr in prp_b:
    ax2.plot(x_prp_b, tr, color=c_prp, lw=0.8)
for xd in dash_b:
    ax2.axvline(xd, color='#808080', ls=(0, (5, 3)), lw=1.6)
ax2.plot(x_mean_wb_b, mean_wb_b, color=c_wb_mean, lw=3.2, label=legend_b[0])
ax2.plot(x_mean_prp_b, mean_prp_b, color=c_prp_mean, lw=3.2, label=legend_b[1])
style_axes(ax2, 'van Rooij’s flow chamber—WB versus PRP')
add_legend(ax2)

fig.text(10 / 1233, 1 - 22 / 443, '($a$)', fontsize=17.5, va='baseline')
fig.text(638 / 1233, 1 - 22 / 443, '($b$)', fontsize=17.5, va='baseline')

fig.savefig('out.png', dpi=100)
